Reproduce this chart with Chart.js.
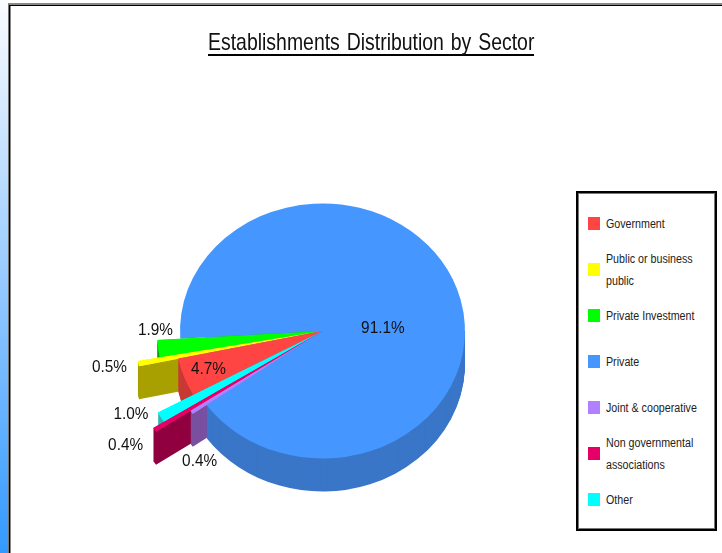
<!DOCTYPE html>
<html>
<head>
<meta charset="utf-8">
<title>Establishments Distribution by Sector</title>
<script src="https://cdn.jsdelivr.net/npm/chart.js@4"></script>
<style>
html, body { margin: 0; padding: 0; }
body { width: 722px; height: 553px; overflow: hidden; position: relative; background: #fff; }
#band { position: absolute; left: 0; top: 0; width: 8px; height: 553px; background: linear-gradient(to bottom, #fbfcff, #3399ff); }
#frame { position: absolute; left: 8px; top: 3px; width: 714px; height: 550px; box-sizing: border-box; border-left: 1px solid #777; border-top: 2px solid #888; box-shadow: inset 1px 1px 0 #000, inset 2px 0 0 #888; }
#salesPie { position: absolute; left: 0; top: 0; }
#title { position: absolute; left: 208px; top: 28px; width: 326px; height: 28px; box-sizing: border-box; border-bottom: 2px solid #000; font: 24px/27px "Liberation Sans", Arial, sans-serif; color: #111; }
#title span { position: absolute; left: 0; top: 0; white-space: nowrap; word-spacing: 1.8px; transform: scaleX(0.81); transform-origin: left top; }
#legend { position: absolute; left: 576px; top: 191px; width: 141px; height: 340px; box-sizing: border-box; border: 2px solid #000; box-shadow: inset 0 0 0 1px #777; background: #fff; font: 12px/22px "Liberation Sans", Arial, sans-serif; color: #222; }
.row { position: absolute; left: 10px; width: 125px; height: 46px; display: flex; align-items: center; }
.swatch { width: 12px; height: 13px; flex: none; margin-right: 6px; }
.name { transform: translateY(1px) scaleX(0.89); transform-origin: left center; width: 125px; }
</style>
</head>
<body>
<div id="band"></div>
<div id="frame"></div>
<canvas id="salesPie" width="722" height="553"></canvas>
<div id="title"><span>Establishments Distribution by Sector</span></div>
<div id="legend"></div>
<script>
var sectors = ['Government', 'Public or business public', 'Private Investment', 'Private', 'Joint & cooperative', 'Non governmental associations', 'Other'];
var shares = [4.7, 0.5, 1.9, 91.1, 0.4, 0.4, 1.0];
var topColors = ['#ff4444', '#ffff00', '#00ff00', '#4596ff', '#b080ff', '#e60066', '#00ffff'];
var wallColors = ['#c83a34', '#a8a000', '#00a800', '#3a76c8', '#7a50a0', '#900040', '#30b4b4'];
// how far each slice sticks out compared to the main pie
var radiusFactors = [1.035, 1.317, 1.16, 1, 1.118, 1.41, 1.32];
// label nudges from the outer middle of each slice
var labelNudges = [[24, -8], [-29, 4], [-3, -18], [-74, 40], [8, 49], [-29, 16], [-30, -3]];
var squash = 0.895;
var depth = 33;
// back to front, without the private slice which is painted last
var paintOrder = [2, 1, 0, 6, 5, 4];
var mainSlice = 3;

function paintArc(ctx, arc, color, shift) {
    var cx = arc.x, cy = arc.y;
    ctx.save();
    ctx.translate(cx, cy + shift);
    ctx.scale(1, squash);
    ctx.translate(-cx, -cy);
    var saved = arc.options;
    arc.options = Object.assign({}, saved, { backgroundColor: color, borderWidth: 0 });
    arc.draw(ctx);
    arc.options = saved;
    ctx.restore();
}

function paintWall(ctx, arc, color) {
    for (var d = depth; d > 0; d--) {
        paintArc(ctx, arc, color, d);
    }
}

var pie3d = {
    id: 'pie3d',
    afterDatasetsUpdate: function (chart) {
        var arcs = chart.getDatasetMeta(0).data;
        arcs.forEach(function (arc, i) {
            arc.outerRadius = arc.outerRadius * radiusFactors[i];
        });
    },
    beforeDatasetDraw: function (chart) {
        var ctx = chart.ctx;
        var arcs = chart.getDatasetMeta(0).data;
        var main = arcs[mainSlice];

        paintOrder.forEach(function (i) {
            paintWall(ctx, arcs[i], wallColors[i]);
            paintArc(ctx, arcs[i], topColors[i], 0);
        });

        // the main wall only shows from the slice's far edge round to the right
        var edgeX = main.x + Math.cos(main.endAngle) * main.outerRadius;
        ctx.save();
        ctx.beginPath();
        ctx.rect(edgeX, main.y, chart.width - edgeX, chart.height - main.y);
        ctx.clip();
        paintWall(ctx, main, wallColors[mainSlice]);
        ctx.restore();
        paintArc(ctx, main, topColors[mainSlice], 0);

        // that wall runs over the small slices near the centre, so put their tops back
        paintOrder.forEach(function (i) {
            paintArc(ctx, arcs[i], topColors[i], 0);
        });

        ctx.save();
        ctx.fillStyle = '#111';
        ctx.font = '16px "Liberation Sans", Arial, sans-serif';
        ctx.textAlign = 'center';
        ctx.textBaseline = 'middle';
        arcs.forEach(function (arc, i) {
            var mid = (arc.startAngle + arc.endAngle) / 2;
            var x = arc.x + Math.cos(mid) * arc.outerRadius + labelNudges[i][0];
            var y = arc.y + Math.sin(mid) * arc.outerRadius * squash + labelNudges[i][1];
            var label = shares[i].toFixed(1) + '%';
            ctx.fillText(label, x, y, ctx.measureText(label).width * 0.96);
        });
        ctx.restore();
        return false;
    }
};

new Chart(document.getElementById('salesPie').getContext('2d'), {
    type: 'pie',
    data: {
        labels: sectors,
        datasets: [{
            data: shares,
            backgroundColor: topColors,
            borderWidth: 0
        }]
    },
    options: {
        responsive: false,
        animation: false,
        rotation: 241,
        layout: { padding: { left: 180, right: 257, top: 188, bottom: 79 } },
        plugins: {
            legend: { display: false },
            tooltip: { enabled: false }
        }
    },
    plugins: [pie3d]
});

var legendBox = document.getElementById('legend');
sectors.forEach(function (name, i) {
    var row = document.createElement('div');
    row.className = 'row';
    row.style.top = (7 + i * 46) + 'px';
    var swatch = document.createElement('span');
    swatch.className = 'swatch';
    swatch.style.background = topColors[i];
    var text = document.createElement('span');
    text.className = 'name';
    text.textContent = name;
    row.appendChild(swatch);
    row.appendChild(text);
    legendBox.appendChild(row);
});
</script>
</body>
</html>
